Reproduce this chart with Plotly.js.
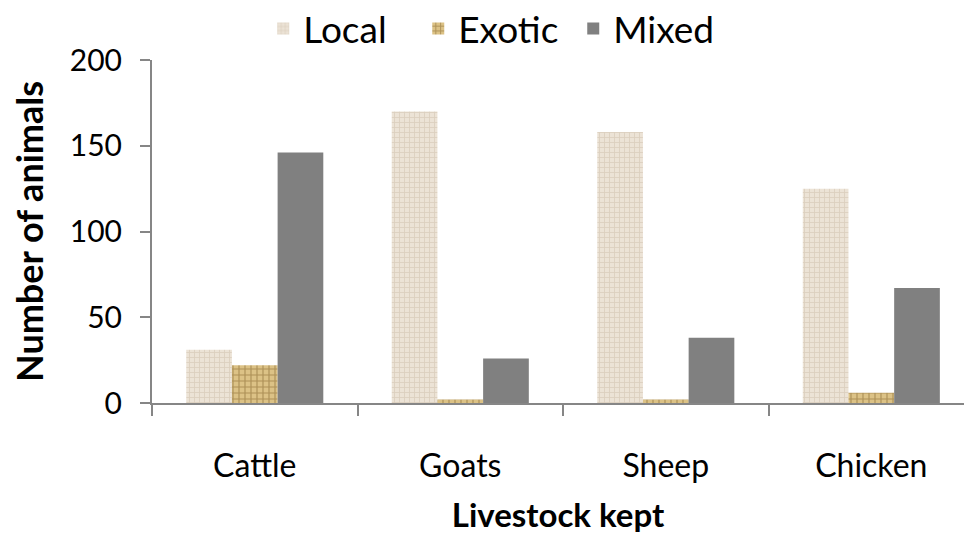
<!DOCTYPE html>
<html>
<head>
<meta charset="utf-8">
<script src="https://cdn.plot.ly/plotly-3.0.1.min.js"></script>
<style>html,body{margin:0;padding:0;background:#fff;}#chart{width:964px;height:550px;}</style>
</head>
<body>
<div id="chart"></div>
<script>
const categories = ["Cattle", "Goats", "Sheep", "Chicken"];
const localValues = [31, 170, 158, 125];
const exoticValues = [22, 2, 2, 6];
const mixedValues = [146, 26, 38, 67];
const seriesNames = ["Local", "Exotic", "Mixed"];
const yTicks = [0, 50, 100, 150, 200];

const FONT = "Lato, 'Open Sans', sans-serif";

const traces = [
  {
    type: "bar", name: seriesNames[0], x: categories, y: localValues,
    marker: {color: "#ebe2d5", line: {width: 0},
      pattern: {shape: "+", bgcolor: "#ece3d6", fgcolor: "#c8b9a4", size: 5, solidity: 0.3, fillmode: "overlay"}}
  },
  {
    type: "bar", name: seriesNames[1], x: categories, y: exoticValues,
    marker: {color: "#d9bd82", line: {width: 0},
      pattern: {shape: "+", bgcolor: "#dcc286", fgcolor: "#7d5f27", size: 6, solidity: 0.35, fillmode: "overlay"}}
  },
  {
    type: "bar", name: seriesNames[2], x: categories, y: mixedValues,
    marker: {color: "#808080", line: {width: 0}}
  }
];

const layout = {
  width: 964, height: 550,
  paper_bgcolor: "#ffffff", plot_bgcolor: "#ffffff",
  margin: {l: 152, r: 0, t: 60, b: 147, autoexpand: false},
  barmode: "group", bargap: 0.333, bargroupgap: 0,
  font: {family: FONT, color: "#000000", size: 32},
  showlegend: true,
  legend: {orientation: "h", x: 0.137, xanchor: "left", y: 1.0, yanchor: "bottom",
    font: {family: FONT, size: 37, color: "#000"}, itemwidth: 30, traceorder: "normal",
    entrywidth: 110, entrywidthmode: "pixels"},
  xaxis: {
    type: "category", range: [-0.5, 3.451],
    showline: true, linecolor: "#868686", linewidth: 2,
    ticks: "outside", tickson: "boundaries", ticklen: 11, tickwidth: 2, tickcolor: "#868686",
    tickfont: {family: FONT, size: 32, color: "#000"}, ticklabelstandoff: 34,
    showgrid: false, zeroline: false, fixedrange: true,
    title: {text: "<b>Livestock kept</b>", font: {family: FONT, size: 33, color: "#000"}, standoff: 20}
  },
  yaxis: {
    range: [0, 200], tickvals: yTicks, ticktext: yTicks.map(String),
    showline: true, linecolor: "#868686", linewidth: 2,
    ticks: "outside", ticklen: 10, tickwidth: 2, tickcolor: "#868686",
    tickfont: {family: FONT, size: 30, color: "#000"}, ticklabelstandoff: 12,
    showgrid: false, zeroline: false, fixedrange: true,
    title: {text: "<b>Number of animals</b>", font: {family: FONT, size: 36, color: "#000"}, standoff: 15}
  }
};

Plotly.newPlot("chart", traces, layout, {displayModeBar: false, staticPlot: true});
</script>
</body>
</html>
